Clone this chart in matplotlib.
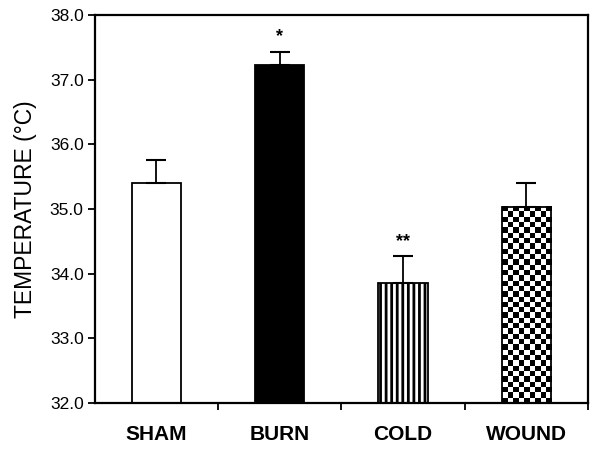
import numpy as np
import matplotlib
matplotlib.use('Agg')
import matplotlib.pyplot as plt

plt.rcParams['font.family'] = ['Liberation Sans', 'DejaVu Sans']
plt.rcParams['hatch.linewidth'] = 2.0

# data
groups = ['SHAM', 'BURN', 'COLD', 'WOUND']
temps = [35.4, 37.22, 33.85, 35.03]
errs = [0.35, 0.21, 0.42, 0.37]
stars = ['', '*', '**', '']

fig = plt.figure(figsize=(6, 4.51), dpi=100)
ax = fig.add_axes([0.158, 0.106, 0.822, 0.861])

x = np.arange(len(groups))
width = 0.4
bars = ax.bar(x, np.array(temps) - 32, bottom=32, width=width,
              color=['white', 'black', 'white', 'none'],
              edgecolor='black', linewidth=1.3, zorder=2)
bars[2].set_hatch('|||')

# checkerboard for WOUND bar
b = bars[3]
bx, by = b.get_x(), b.get_y()
bw, bh = b.get_width(), b.get_height()
ncol = 9
nrow = int(round(bh / 0.083))
checker = np.add.outer(np.arange(nrow), np.arange(ncol)) % 2
ax.imshow(checker, cmap='gray', interpolation='nearest', aspect='auto',
          extent=(bx, bx + bw, by, by + bh), zorder=1.5)

# one-sided error bars
ax.errorbar(x, temps, yerr=[np.zeros(len(errs)), errs], fmt='none',
            ecolor='black', elinewidth=1.3, capsize=7, capthick=1.5, zorder=4)

for xi, t, e, s in zip(x, temps, errs, stars):
    if s:
        ax.text(xi, t + e + 0.1, s, ha='center', va='bottom',
                fontsize=13, fontweight='bold')

ax.set_xlim(-0.5, 3.5)
ax.set_ylim(32, 38)
yt = np.arange(32, 38.5, 1.0)
ax.set_yticks(yt)
ax.set_yticklabels(['%.1f' % v for v in yt], fontsize=12.5)
ax.set_xticks(x)
ax.set_xticklabels(groups, fontsize=15, fontweight='bold')
ax.tick_params(axis='x', which='major', length=0, pad=16)
ax.set_xticks(list(x[1:] - 0.5) + [3.5], minor=True)
ax.tick_params(axis='x', which='minor', length=5, width=1.3, direction='out')
ax.tick_params(axis='y', length=5, width=1.3, direction='out', pad=3)
ax.set_ylabel('TEMPERATURE (°C)', fontsize=16.5, labelpad=9)

for sp in ax.spines.values():
    sp.set_linewidth(1.6)

fig.savefig('out.png', dpi=100)
